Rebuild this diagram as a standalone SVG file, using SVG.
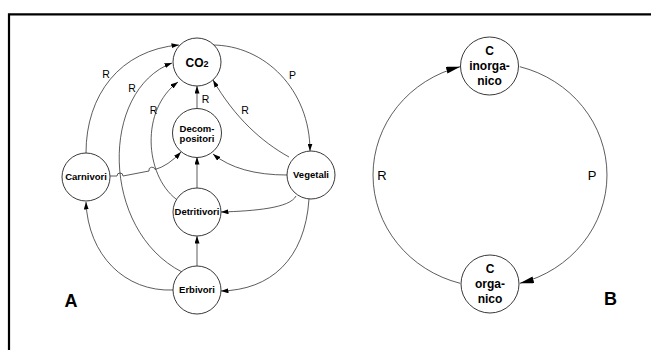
<svg xmlns="http://www.w3.org/2000/svg" width="651" height="350" viewBox="0 0 651 350">
<style>
.frame{fill:none;stroke:#000;stroke-width:2.2}
.node{fill:#fff;stroke:#222;stroke-width:0.9}
.lbl{font-family:"Liberation Sans",Arial,sans-serif;font-weight:bold;font-size:9.5px;fill:#000;text-anchor:middle}
.lblB{font-family:"Liberation Sans",Arial,sans-serif;font-weight:bold;font-size:12px;fill:#000;text-anchor:middle}
.edge{fill:none;stroke:#333;stroke-width:0.8}
.ea{marker-end:url(#arrA)}
.eb{marker-end:url(#arrB)}
.elbl{font-family:"Liberation Sans",Arial,sans-serif;font-size:10.5px;fill:#000;text-anchor:middle}
.elblB{font-family:"Liberation Sans",Arial,sans-serif;font-size:13px;fill:#000;text-anchor:middle}
.big{font-family:"Liberation Sans",Arial,sans-serif;font-weight:bold;font-size:18px;fill:#000;text-anchor:middle}
</style>
<defs>
<marker id="arrA" markerUnits="userSpaceOnUse" markerWidth="8" markerHeight="5" refX="7.5" refY="2.5" orient="auto">
<path d="M0,0 L7.5,2.5 L0,5 z" fill="#000"/>
</marker>
<marker id="arrB" markerUnits="userSpaceOnUse" markerWidth="15" markerHeight="7" refX="14" refY="3.5" orient="auto">
<path d="M0,0 L14,3.5 L0,7 z" fill="#000"/>
</marker>
</defs>

<path class="frame" d="M9,350 V14.3 H651"/>

<g id="connectors">
<!-- A -->
<path class="edge ea" d="M86,153 C86,95 120,50 179,45"/>
<path class="edge ea" d="M182,272 C100,230 100,90 172,63"/>
<path class="edge ea" d="M176,199 C145,175 140,110 178,82"/>
<path class="edge ea" d="M197,108 L197,86"/>
<path class="edge ea" d="M289,157 C262,142 235,118 213,80"/>
<path class="edge ea" d="M212,45 C265,45 310,90 310,151"/>
<path class="edge ea" d="M110,176 L117,176 A3,3 0 0 1 123,176 L149,171 A3,3 0 0 1 155,169.5 Q168,166 181,152"/>
<path class="edge ea" d="M287,175 C255,175 230,168 213,154"/>
<path class="edge ea" d="M296,196 C290,208 255,211 221,212"/>
<path class="edge ea" d="M197,188 L197,157"/>
<path class="edge ea" d="M197,266 L197,236"/>
<path class="edge ea" d="M309,199 C305,260 270,290 221,291"/>
<path class="edge ea" d="M173,290 C125,292 88,255 86,202"/>
<!-- B -->
<path class="edge eb" d="M519.8,66.7 A117,112 0 0 1 519.8,283.3"/>
<path class="edge eb" d="M460.2,283.3 A117,112 0 0 1 460.2,66.7"/>
</g>

<g id="edge-labels">
<text class="elbl" x="106" y="78">R</text>
<text class="elbl" x="132" y="92">R</text>
<text class="elbl" x="153.6" y="114">R</text>
<text class="elbl" x="205.5" y="103">R</text>
<text class="elbl" x="245" y="114">R</text>
<text class="elbl" x="292.6" y="79">P</text>
<text class="elblB" x="382" y="179.7">R</text>
<text class="elblB" x="592" y="179.7">P</text>
</g>

<g id="co2">
<circle class="node" cx="197" cy="62" r="24"/>
<text class="lbl" x="197" y="67" style="font-size:12px">CO<tspan style="font-size:9px">2</tspan></text>
</g>
<g id="decompositori">
<circle class="node" cx="197" cy="133" r="24.5"/>
<text class="lbl" x="197" y="131.5">Decom-</text>
<text class="lbl" x="197" y="141.5">positori</text>
</g>
<g id="carnivori">
<circle class="node" cx="86" cy="177" r="24"/>
<text class="lbl" x="86" y="180.4">Carnivori</text>
</g>
<g id="vegetali">
<circle class="node" cx="311" cy="175" r="24"/>
<text class="lbl" x="311" y="178.4">Vegetali</text>
</g>
<g id="detritivori">
<circle class="node" cx="197" cy="212" r="24"/>
<text class="lbl" x="197" y="215.4">Detritivori</text>
</g>
<g id="erbivori">
<circle class="node" cx="197" cy="290" r="24"/>
<text class="lbl" x="197" y="293.4">Erbivori</text>
</g>
<g id="c-inorganico">
<circle class="node" cx="489.5" cy="66" r="29"/>
<text class="lblB" x="489.5" y="54.5">C</text>
<text class="lblB" x="489.5" y="69.5">inorga-</text>
<text class="lblB" x="489.5" y="84.5">nico</text>
</g>
<g id="c-organico">
<circle class="node" cx="490" cy="284" r="29"/>
<text class="lblB" x="490" y="272.5">C</text>
<text class="lblB" x="490" y="287.5">orga-</text>
<text class="lblB" x="490" y="302.5">nico</text>
</g>

<text class="big" x="71" y="307">A</text>
<text class="big" x="610.5" y="305">B</text>
</svg>
